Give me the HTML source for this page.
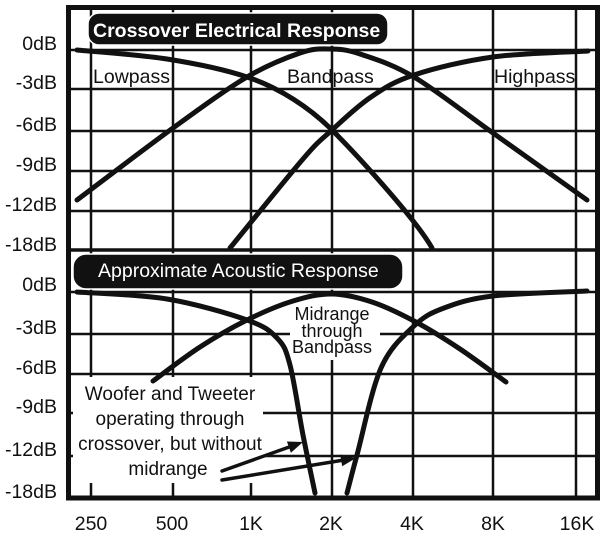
<!DOCTYPE html>
<html><head><meta charset="utf-8"><style>
html,body{margin:0;padding:0;background:#fff;}
svg{display:block;}
text{font-family:"Liberation Sans",Arial,sans-serif;fill:#111;}
</style></head><body>
<svg width="608" height="536" viewBox="0 0 608 536" xmlns="http://www.w3.org/2000/svg">
<rect width="608" height="536" fill="#fff"/>
<!-- grid -->
<g stroke="#111" stroke-width="2.5" fill="none">
<line x1="91" y1="8" x2="91" y2="498"/>
<line x1="173" y1="8" x2="173" y2="498"/>
<line x1="251" y1="8" x2="251" y2="498"/>
<line x1="332" y1="8" x2="332" y2="498"/>
<line x1="413" y1="8" x2="413" y2="498"/>
<line x1="493" y1="8" x2="493" y2="498"/>
<line x1="576" y1="8" x2="576" y2="498"/>
<line x1="68" y1="50" x2="598" y2="50"/>
<line x1="68" y1="89" x2="598" y2="89"/>
<line x1="68" y1="131" x2="598" y2="131"/>
<line x1="68" y1="171" x2="598" y2="171"/>
<line x1="68" y1="211" x2="598" y2="211"/>
<line x1="68" y1="292" x2="598" y2="292"/>
<line x1="68" y1="334" x2="598" y2="334"/>
<line x1="68" y1="374" x2="598" y2="374"/>
<line x1="68" y1="413" x2="598" y2="413"/>
<line x1="68" y1="456" x2="598" y2="456"/>
</g>
<line x1="68" y1="250" x2="598" y2="250" stroke="#111" stroke-width="3.5"/>
<!-- knockouts -->
<rect x="73" y="377" width="190" height="106" fill="#fff"/>
<rect x="290" y="296" width="90" height="64" fill="#fff"/>
<!-- frame -->
<rect x="68.5" y="7.5" width="529" height="490.5" fill="none" stroke="#111" stroke-width="5"/>
<!-- badges -->
<rect x="88" y="13" width="300" height="32" rx="11" fill="#111" stroke="#fff" stroke-width="1.5"/>
<text x="93" y="37" font-size="19.5" font-weight="bold" style="fill:#fff">Crossover Electrical Response</text>
<rect x="73" y="254" width="330" height="35" rx="13" fill="#111" stroke="#fff" stroke-width="1.5"/>
<text x="98" y="277" font-size="19.5" style="fill:#fff">Approximate Acoustic Response</text>
<!-- curves top -->
<g stroke="#111" stroke-width="5" fill="none" stroke-linecap="round" stroke-linejoin="round">
<path d="M77,50 C92,51.5 138.7,54.5 167,59 C195.3,63.5 224.2,69.3 247,77 C280,88 310,108 332,130 C355,153 415,218 432,248"/>
<path d="M77,200 C93,188 144.7,148.5 173,128 C201.3,107.5 225.8,89.5 247,77 C268.2,64.5 286.2,57.7 300,53 C313.8,48.3 320,48.8 330,49 C340,49.2 346,49.3 360,54 C374,58.7 391.8,63.8 414,77 C436.2,90.2 464.2,112.5 493,133 C521.8,153.5 571.3,188.8 587,200"/>
<path d="M230,248 C242.2,233.2 286,178.7 303,159 C320,139.3 320.7,140.3 332,130 C343.3,119.7 357.3,106.2 371,97 C384.7,87.8 393.7,81.7 414,75 C434.3,68.3 464,61 493,57 C522,53 572.2,52 588,51"/>
<!-- curves bottom -->
<path d="M77,292 C92,293.2 138.7,294.3 167,299 C195.3,303.7 228.7,313.5 247,320 C265.3,326.5 269.8,330.5 277,338 C284.2,345.5 285.7,348.8 290,365 C294.3,381.2 298.8,413.7 303,435 C307.2,456.3 313,483.3 315,493"/>
<path d="M153,381 C160.8,375.3 184.3,357.2 200,347 C215.7,336.8 231.5,327.7 247,320 C262.5,312.3 278.8,305.3 293,301 C307.2,296.7 318.8,293.8 332,294 C345.2,294.2 358.3,297.5 372,302 C385.7,306.5 399.3,313.2 414,321 C428.7,328.8 444.7,338.8 460,349 C475.3,359.2 498.3,376.5 506,382"/>
<path d="M347,493 C348.7,486.7 351.3,475.8 357,455 C362.7,434.2 371.5,389.5 381,368 C390.5,346.5 403.5,336 414,326 C424.5,316 430.8,313 444,308 C457.2,303 469.2,298.8 493,296 C516.8,293.2 571.3,291.8 587,291"/>
</g>
<!-- arrows -->
<g stroke="#111" stroke-width="3.5" stroke-linecap="round">
<line x1="222" y1="471" x2="292" y2="446"/>
<line x1="222" y1="480" x2="344" y2="460"/>
</g>
<polygon points="303,442 290.9,452.7 286.9,441.5" fill="#111"/>
<polygon points="356,458 342.2,466.3 340.2,454.5" fill="#111"/>
<!-- y labels -->
<g font-size="19.5" text-anchor="end">
<text x="57" y="50">0dB</text>
<text x="57" y="89">-3dB</text>
<text x="57" y="131">-6dB</text>
<text x="57" y="171">-9dB</text>
<text x="57" y="211">-12dB</text>
<text x="57" y="251">-18dB</text>
<text x="57" y="291">0dB</text>
<text x="57" y="334">-3dB</text>
<text x="57" y="374">-6dB</text>
<text x="57" y="413">-9dB</text>
<text x="57" y="456">-12dB</text>
<text x="57" y="498">-18dB</text>
</g>
<!-- x labels -->
<g font-size="19.5" text-anchor="middle">
<text x="91" y="530">250</text>
<text x="172" y="530">500</text>
<text x="251" y="530">1K</text>
<text x="331" y="530">2K</text>
<text x="412" y="530">4K</text>
<text x="493" y="530">8K</text>
<text x="577" y="530">16K</text>
</g>
<!-- series labels -->
<g font-size="19.5">
<text x="93" y="83">Lowpass</text>
<text x="287" y="83">Bandpass</text>
<text x="494" y="83">Highpass</text>
</g>
<g font-size="18" text-anchor="middle">
<text x="332" y="320">Midrange</text>
<text x="332" y="337">through</text>
<text x="332" y="353">Bandpass</text>
</g>
<g font-size="19" text-anchor="middle">
<text x="170" y="400">Woofer and Tweeter</text>
<text x="170" y="425">operating through</text>
<text x="170" y="450">crossover, but without</text>
<text x="168" y="475">midrange</text>
</g>
</svg>
</body></html>
